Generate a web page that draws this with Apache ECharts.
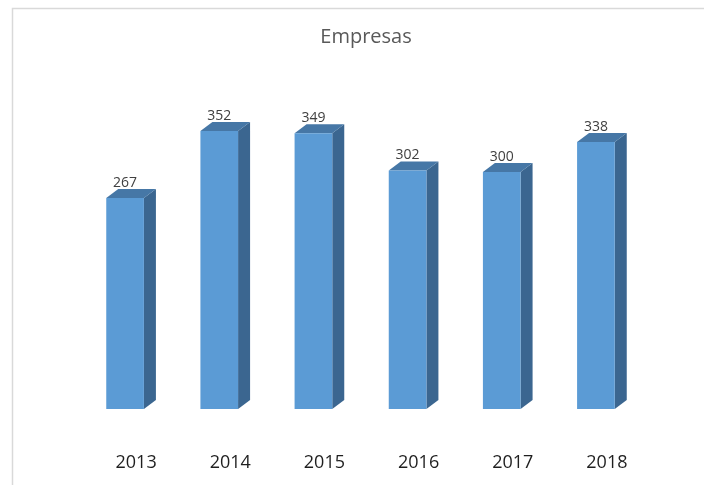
<!DOCTYPE html>
<html>
<head>
<meta charset="utf-8">
<script src="https://cdn.jsdelivr.net/npm/echarts@6/dist/echarts.min.js"></script>
<style>html,body{margin:0;padding:0;background:#fff}#c{width:704px;height:485px}</style>
</head>
<body>
<div id="c"></div>
<script>
var categories = ['2013', '2014', '2015', '2016', '2017', '2018'];
var values = [267, 352, 349, 302, 300, 338];
var titleText = 'Empresas';

var chart = echarts.init(document.getElementById('c'));
var FRONT = '#5B9BD5', SIDE = '#3B6690', TOP = '#4677A6';
var DX = 12, DY = 9;

chart.setOption({
  animation: false,
  backgroundColor: '#ffffff',
  title: {
    text: titleText, left: 361, top: 22, textAlign: 'center',
    textStyle: { fontFamily: 'Open Sans', fontSize: 20, fontWeight: 'normal', color: '#595959' }
  },
  graphic: [{
    type: 'rect', left: 10, top: 6, z: -1,
    shape: { width: 720, height: 500 },
    style: { fill: 'none', stroke: '#d9d9d9', lineWidth: 1.5 }
  }],
  grid: { left: 78, right: 61, top: 93, bottom: 76 },
  xAxis: {
    type: 'category', data: categories,
    axisLine: { show: false }, axisTick: { show: false },
    axisLabel: { margin: 45, padding: [0, 0, 0, 22], fontFamily: 'Open Sans', fontSize: 18, color: '#1f1f1f' }
  },
  yAxis: { type: 'value', min: 0, max: 400, show: false, splitLine: { show: false } },
  series: [{
    type: 'custom',
    data: values.map(function (v, i) { return [i, v]; }),
    renderItem: function (params, api) {
      var i = api.value(0), v = api.value(1);
      var top = api.coord([i, v]);
      var base = api.coord([i, 0]);
      var band = api.size([1, 0])[0];
      var w = band * 0.4;
      var x0 = top[0] - w / 2, x1 = top[0] + w / 2;
      var yT = top[1], yB = base[1];
      return {
        type: 'group',
        children: [
          { type: 'polygon', shape: { points: [[x1, yT], [x1 + DX, yT - DY], [x1 + DX, yB - DY], [x1, yB]] }, style: { fill: SIDE } },
          { type: 'polygon', shape: { points: [[x0, yT], [x0 + DX, yT - DY], [x1 + DX, yT - DY], [x1, yT]] }, style: { fill: TOP } },
          { type: 'rect', shape: { x: x0, y: yT, width: w, height: yB - yT }, style: { fill: FRONT } },
          { type: 'text', style: { text: String(v), x: top[0], y: yT - DY + 1, textAlign: 'center', textVerticalAlign: 'bottom', fontFamily: 'Open Sans', fontSize: 14, fill: '#404040' } }
        ]
      };
    }
  }]
});
</script>
</body>
</html>
